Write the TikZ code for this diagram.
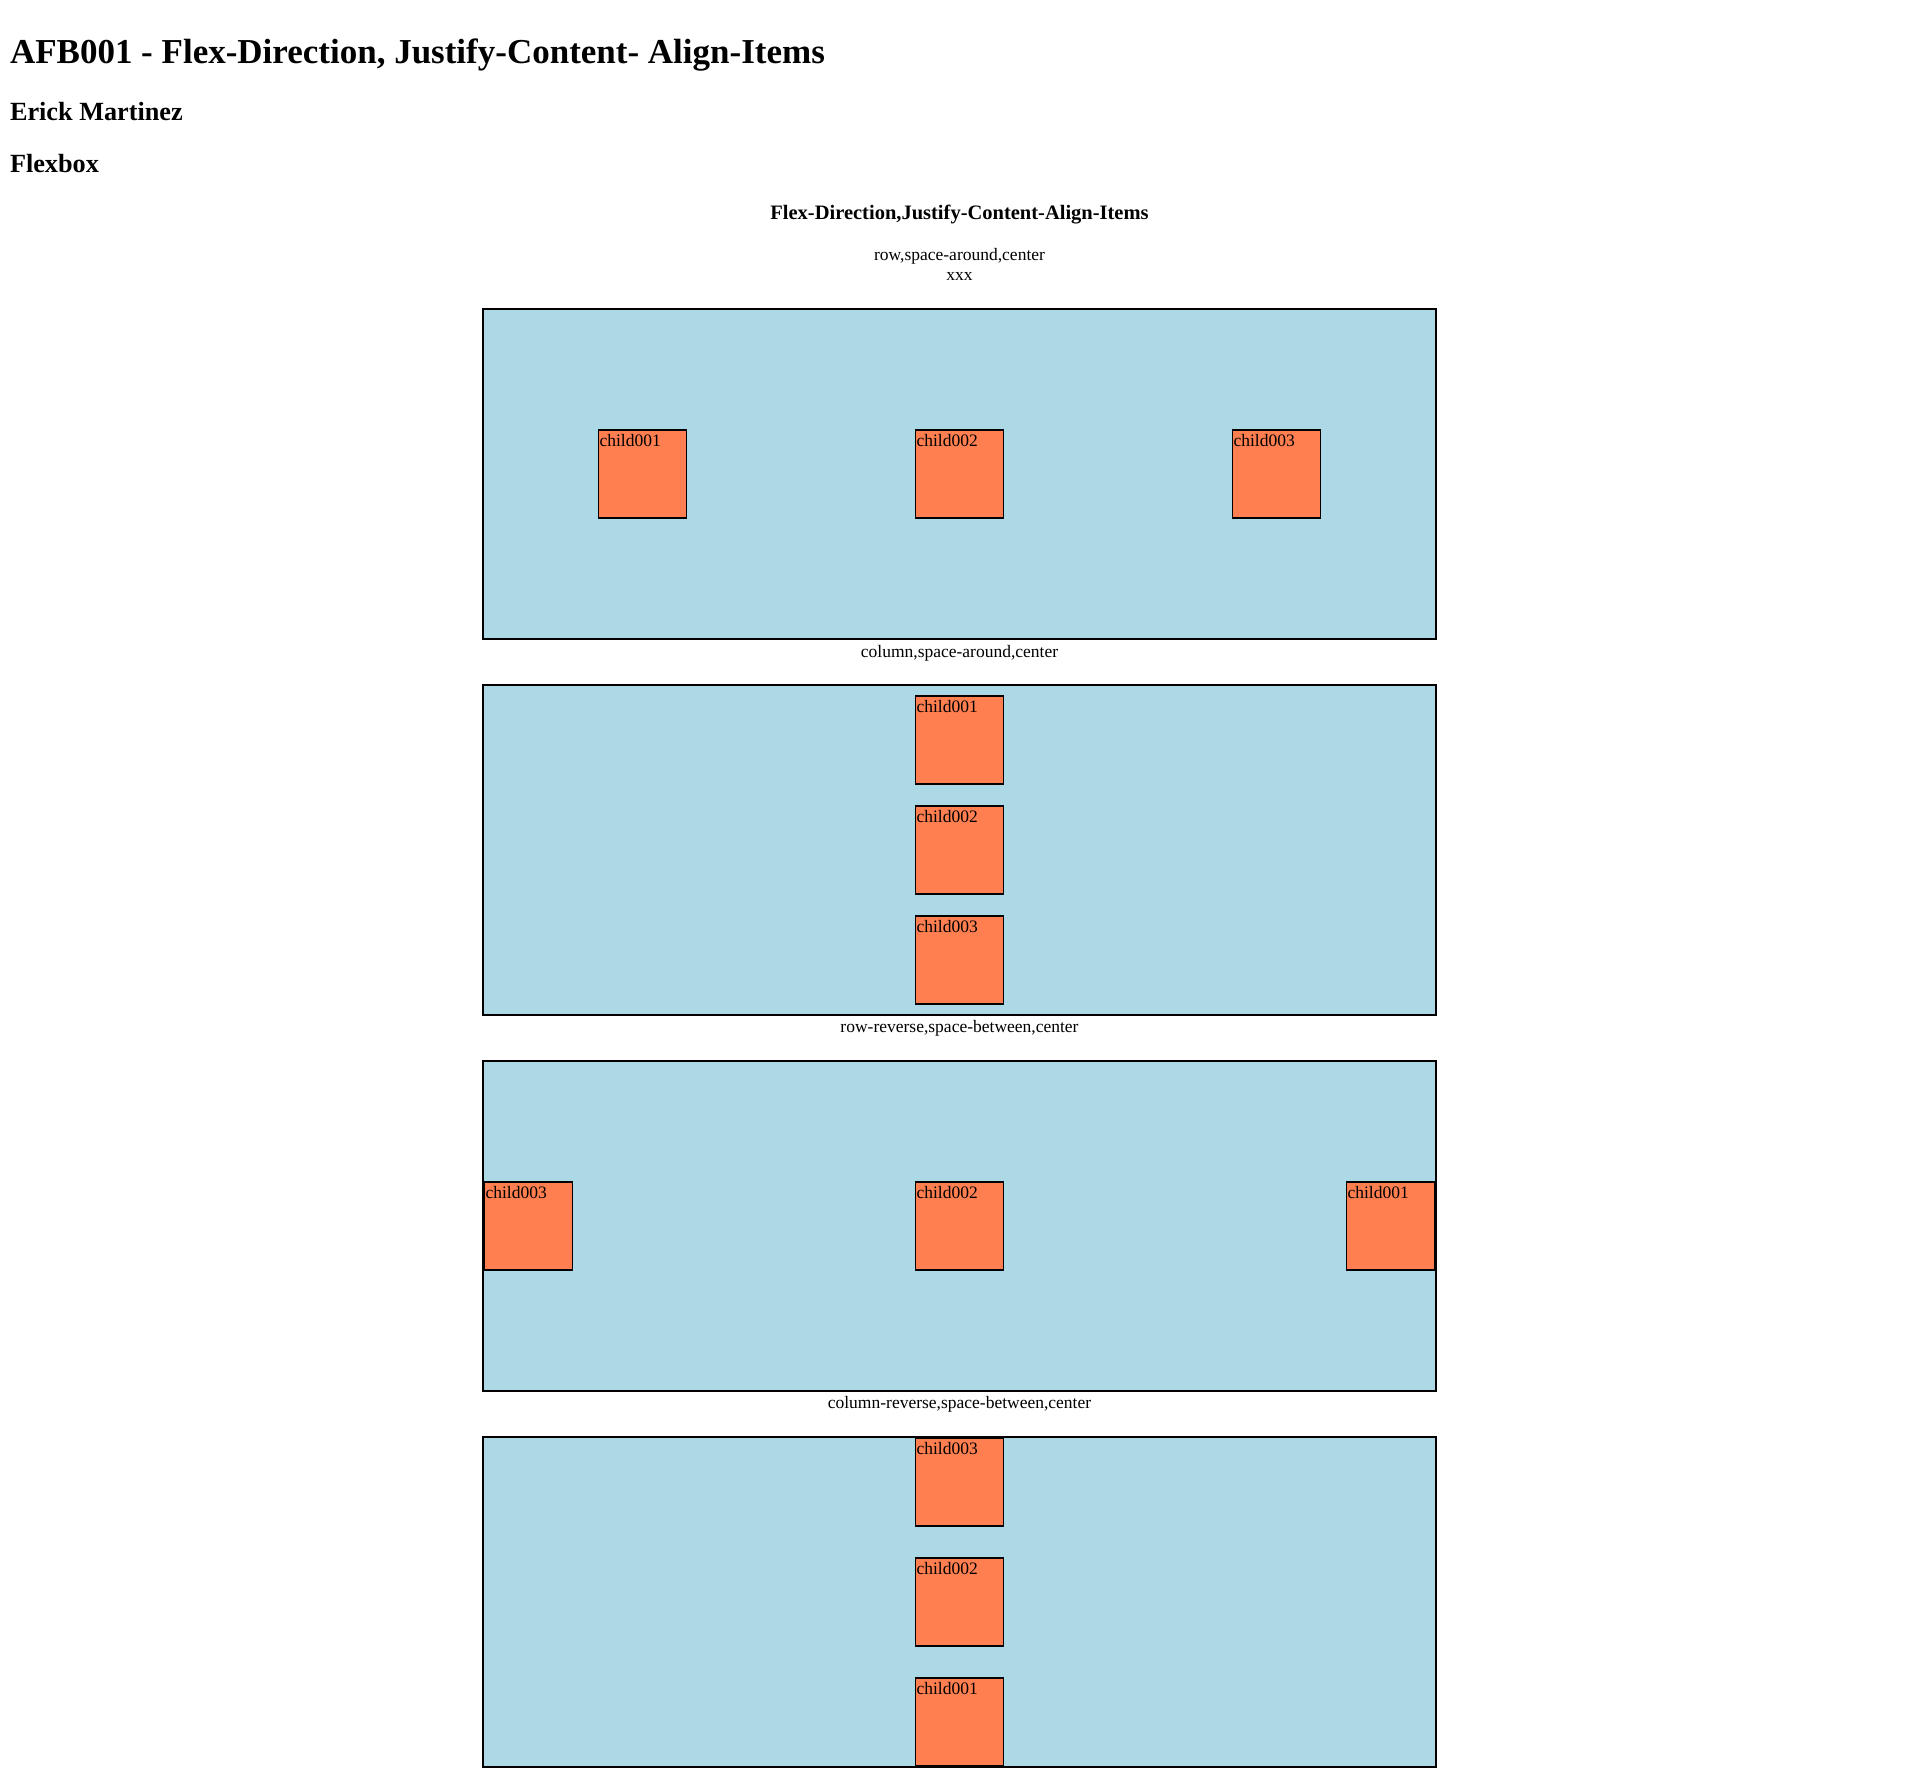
\documentclass[tikz,border=0pt]{standalone}
\usepackage{fontspec}
\setmainfont{Liberation Serif}
\definecolor{lightbluebg}{HTML}{ADD8E6}
\definecolor{coralfill}{HTML}{FF7F50}
\tikzset{
  txt/.style={inner sep=0pt, outer sep=0pt, font=\fontsize{17.5}{20}\selectfont},
  hone/.style={inner sep=0pt, outer sep=0pt, anchor=base west, font=\fontsize{35}{40}\selectfont\bfseries},
  htwo/.style={inner sep=0pt, outer sep=0pt, anchor=base west, font=\fontsize{26.25}{30}\selectfont\bfseries},
  hthree/.style={inner sep=0pt, outer sep=0pt, anchor=base, font=\fontsize{20.5}{23}\selectfont\bfseries},
  container/.style={draw=black, line width=2.4pt, fill=lightbluebg, inner sep=0pt, outer sep=0pt,
    minimum width=952.6pt, minimum height=330.1pt},
  childbox/.style={draw=black, line width=1.2pt, fill=coralfill, inner sep=0pt, outer sep=0pt,
    minimum width=88pt, minimum height=88pt},
  childlbl/.style={txt, anchor=base west}
}
\newcommand{\kid}[4]{%
  \node[childbox] (#1) at (#2,#3) {};
  \node[childlbl] (#1t) at ([shift={(1.0,16.3)}]#1.north west) {#4};
}
\begin{document}
\begin{tikzpicture}[x=1pt,y=-1pt]
\useasboundingbox[fill=white] (0,0) rectangle (1920,1778);
% headings
\node[hone] (h1) at (10,63) {AFB001 - Flex-Direction, Justify-Content- Align-Items};
\node[htwo] (h2a) at (10,120) {Erick Martinez};
\node[htwo] (h2b) at (10,172.5) {Flexbox};
\node[hthree] (ttl) at (959.5,219) {Flex-Direction,Justify-Content-Align-Items};
\node[txt, anchor=base] (l1) at (959.5,260.7) {row,space-around,center};
\node[txt, anchor=base] (l1b) at (959.5,280.7) {xxx};
\node[txt, anchor=base] (l2) at (959.5,657) {column,space-around,center};
\node[txt, anchor=base] (l3) at (959.5,1032.5) {row-reverse,space-between,center};
\node[txt, anchor=base] (l4) at (959.5,1408) {column-reverse,space-between,center};
% containers
\node[container] (box1) at (959.5,473.75) {};
\node[container] (box2) at (959.5,849.75) {};
\node[container] (box3) at (959.5,1225.75) {};
\node[container] (box4) at (959.5,1601.75) {};
% box 1: row, space-around
\kid{a1}{642.5}{474}{child001}
\kid{a2}{959.5}{474}{child002}
\kid{a3}{1276.5}{474}{child003}
% box 2: column, space-around
\kid{b1}{959.5}{740}{child001}
\kid{b2}{959.5}{850}{child002}
\kid{b3}{959.5}{960}{child003}
% box 3: row-reverse, space-between
\kid{c3}{528.5}{1226}{child003}
\kid{c2}{959.5}{1226}{child002}
\kid{c1}{1390.5}{1226}{child001}
% box 4: column-reverse, space-between
\kid{d3}{959.5}{1482}{child003}
\kid{d2}{959.5}{1602}{child002}
\kid{d1}{959.5}{1722}{child001}
\end{tikzpicture}
\end{document}
